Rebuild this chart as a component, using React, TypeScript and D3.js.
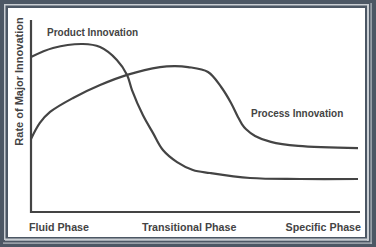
import React from "react";
import * as d3 from "d3";

// Rate of innovation over the life of an industry (0..100 on both axes)
const productX = [0, 6.7, 15.8, 21.0, 26.1, 29.2, 30.7, 34.0, 37.1, 40.1, 44.4, 49.2, 54.4, 66.6, 81.8, 99.4];
const productY = [80.7, 85.4, 87.5, 85.9, 79.2, 71.4, 63.5, 50.5, 41.1, 32.3, 26.0, 21.9, 20.3, 17.7, 17.2, 17.2];

const processX = [0, 2.7, 5.8, 12.8, 21.0, 29.2, 39.2, 43.8, 47.7, 53.8, 57.8, 60.8, 62.9, 64.1, 65.3, 68.1, 72.9, 81.2, 99.4];
const processY = [38.0, 46.4, 52.1, 59.4, 66.1, 71.4, 75.5, 76.0, 75.5, 72.9, 65.1, 56.8, 49.5, 45.8, 43.2, 39.6, 36.5, 34.4, 33.3];

const phaseLabels = ["Fluid Phase", "Transitional Phase", "Specific Phase"];
const yTitle = "Rate of Major Innovation";
const productLabel = "Product Innovation";
const processLabel = "Process Innovation";

const W = 376;
const H = 247;
const left = 31;
const right = 360;
const top = 20;
const bottom = 212;

const ink = "#444444";
const frame = "#4c5764";
const font = "'Liberation Sans', Arial, sans-serif";

export default function App() {
  const x = d3.scaleLinear().domain([0, 100]).range([left, right]);
  const y = d3.scaleLinear().domain([0, 100]).range([bottom, top]);

  const line = d3
    .line<[number, number]>()
    .x((d) => x(d[0]))
    .y((d) => y(d[1]))
    .curve(d3.curveCatmullRom.alpha(0.5));

  const product = productX.map((v, i) => [v, productY[i]] as [number, number]);
  const process = processX.map((v, i) => [v, processY[i]] as [number, number]);

  return (
    <svg
      width={W}
      height={H}
      style={{ position: "fixed", left: 0, top: 0, display: "block" }}
    >
      {/* layered frame */}
      <rect x={0} y={0} width={W} height={H} fill={frame} />
      <rect x={4} y={4} width={365} height={236} fill="#c9ced3" />
      <rect x={5.5} y={5.5} width={362} height={233} fill={frame} />
      <rect x={367} y={5} width={1.5} height={236} fill="#c9ced3" />
      <rect x={5} y={239.5} width={364} height={1.2} fill="#c9ced3" />
      <rect x={370.5} y={3} width={1.2} height={241} fill="#b8bec4" />
      <rect x={3} y={242.5} width={369} height={1.2} fill="#b8bec4" />
      <rect x={8} y={8} width={357} height={229} fill="#ffffff" />

      {/* curves */}
      <path d={line(product) ?? ""} fill="none" stroke={ink} strokeWidth={2.2} />
      <path d={line(process) ?? ""} fill="none" stroke={ink} strokeWidth={2.2} />

      {/* axes */}
      <line x1={left} x2={left} y1={top} y2={bottom + 1} stroke={ink} strokeWidth={2.2} />
      <line x1={left - 1} x2={right} y1={bottom} y2={bottom} stroke={ink} strokeWidth={2.2} />

      {/* labels */}
      <g fontFamily={font} fontWeight="bold" fill={ink}>
        <text
          transform={`translate(22.5, ${(top + 145) / 2 - 1}) rotate(-90)`}
          textAnchor="middle"
          fontSize={11}
        >
          {yTitle}
        </text>
        <text x={47} y={36} fontSize={10}>
          {productLabel}
        </text>
        <text x={251} y={116.5} fontSize={10}>
          {processLabel}
        </text>
        <text x={29} y={231} fontSize={10.7} textAnchor="start">
          {phaseLabels[0]}
        </text>
        <text x={142} y={231} fontSize={10.7} textAnchor="start">
          {phaseLabels[1]}
        </text>
        <text x={361} y={231} fontSize={10.7} textAnchor="end">
          {phaseLabels[2]}
        </text>
      </g>
    </svg>
  );
}
